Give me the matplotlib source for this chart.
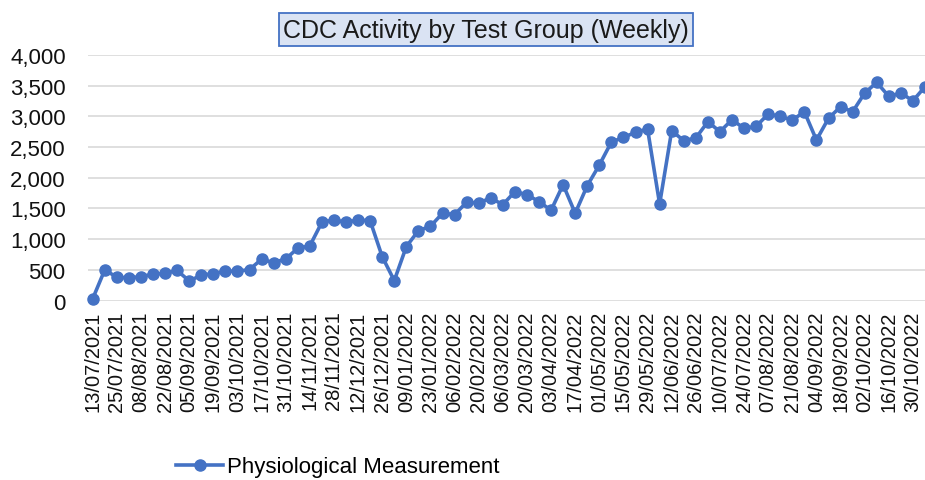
import matplotlib
matplotlib.use('Agg')
import matplotlib.pyplot as plt
import pandas as pd
from matplotlib.ticker import FuncFormatter

plt.rcParams['font.family'] = ['Liberation Sans', 'DejaVu Sans']

# week labels: first partial week, then weekly Sundays
week_dates = ['13/07/2021'] + [d.strftime('%d/%m/%Y')
                               for d in pd.date_range('2021-07-18', periods=69, freq='7D')]

physio = [30, 500, 380, 370, 390, 430, 445, 490, 320, 413,
          440, 478, 478, 505, 673, 618, 678, 852, 890, 1275,
          1312, 1275, 1312, 1300, 716, 325, 878, 1138, 1209, 1421,
          1399, 1600, 1589, 1670, 1561, 1773, 1724, 1610, 1470, 1886,
          1421, 1870, 2206, 2580, 2656, 2738, 2792, 1572, 2765, 2602,
          2646, 2911, 2749, 2943, 2803, 2836, 3036, 2998, 2938, 3073,
          2613, 2966, 3155, 3073, 3377, 3551, 3323, 3377, 3252, 3480]

fig = plt.figure(figsize=(9.25, 4.81), dpi=100)
ax = fig.add_axes([0.095, 0.373, 0.905, 0.511])

x = list(range(len(physio)))
ax.plot(x, physio, '-o', color='#4472c4', lw=2.6, markersize=8,
        label='Physiological Measurement', clip_on=False, zorder=3)

ax.set_ylim(0, 4000)
ax.set_yticks(range(0, 4001, 500))
ax.yaxis.set_major_formatter(FuncFormatter(lambda v, p: '{:,.0f}'.format(v)))
ax.set_xlim(-0.4, 69)
ax.set_xticks(x[::2])
ax.set_xticklabels(week_dates[::2], rotation=90, fontsize=14.5, color='#111111')
ax.tick_params(axis='y', labelsize=16, length=0, pad=16, labelcolor='#111111')
ax.tick_params(axis='x', length=0, pad=7)
ax.grid(axis='y', color='#d9d9d9', lw=1.2)
ax.set_axisbelow(True)
for s in ax.spines.values():
    s.set_visible(False)

fig.text(0.5255, 0.936, 'CDC Activity by Test Group (Weekly)', ha='center', va='center',
         fontsize=18, color='#1a1a1a',
         bbox=dict(boxstyle='square,pad=0.18', facecolor='#dae3f3', edgecolor='#4472c4', lw=1.3))

fig.legend(loc='lower left', bbox_to_anchor=(0.169, -0.036), frameon=False, fontsize=16,
           handlelength=2.1, handletextpad=0.2)

fig.savefig('out.png', dpi=100)
